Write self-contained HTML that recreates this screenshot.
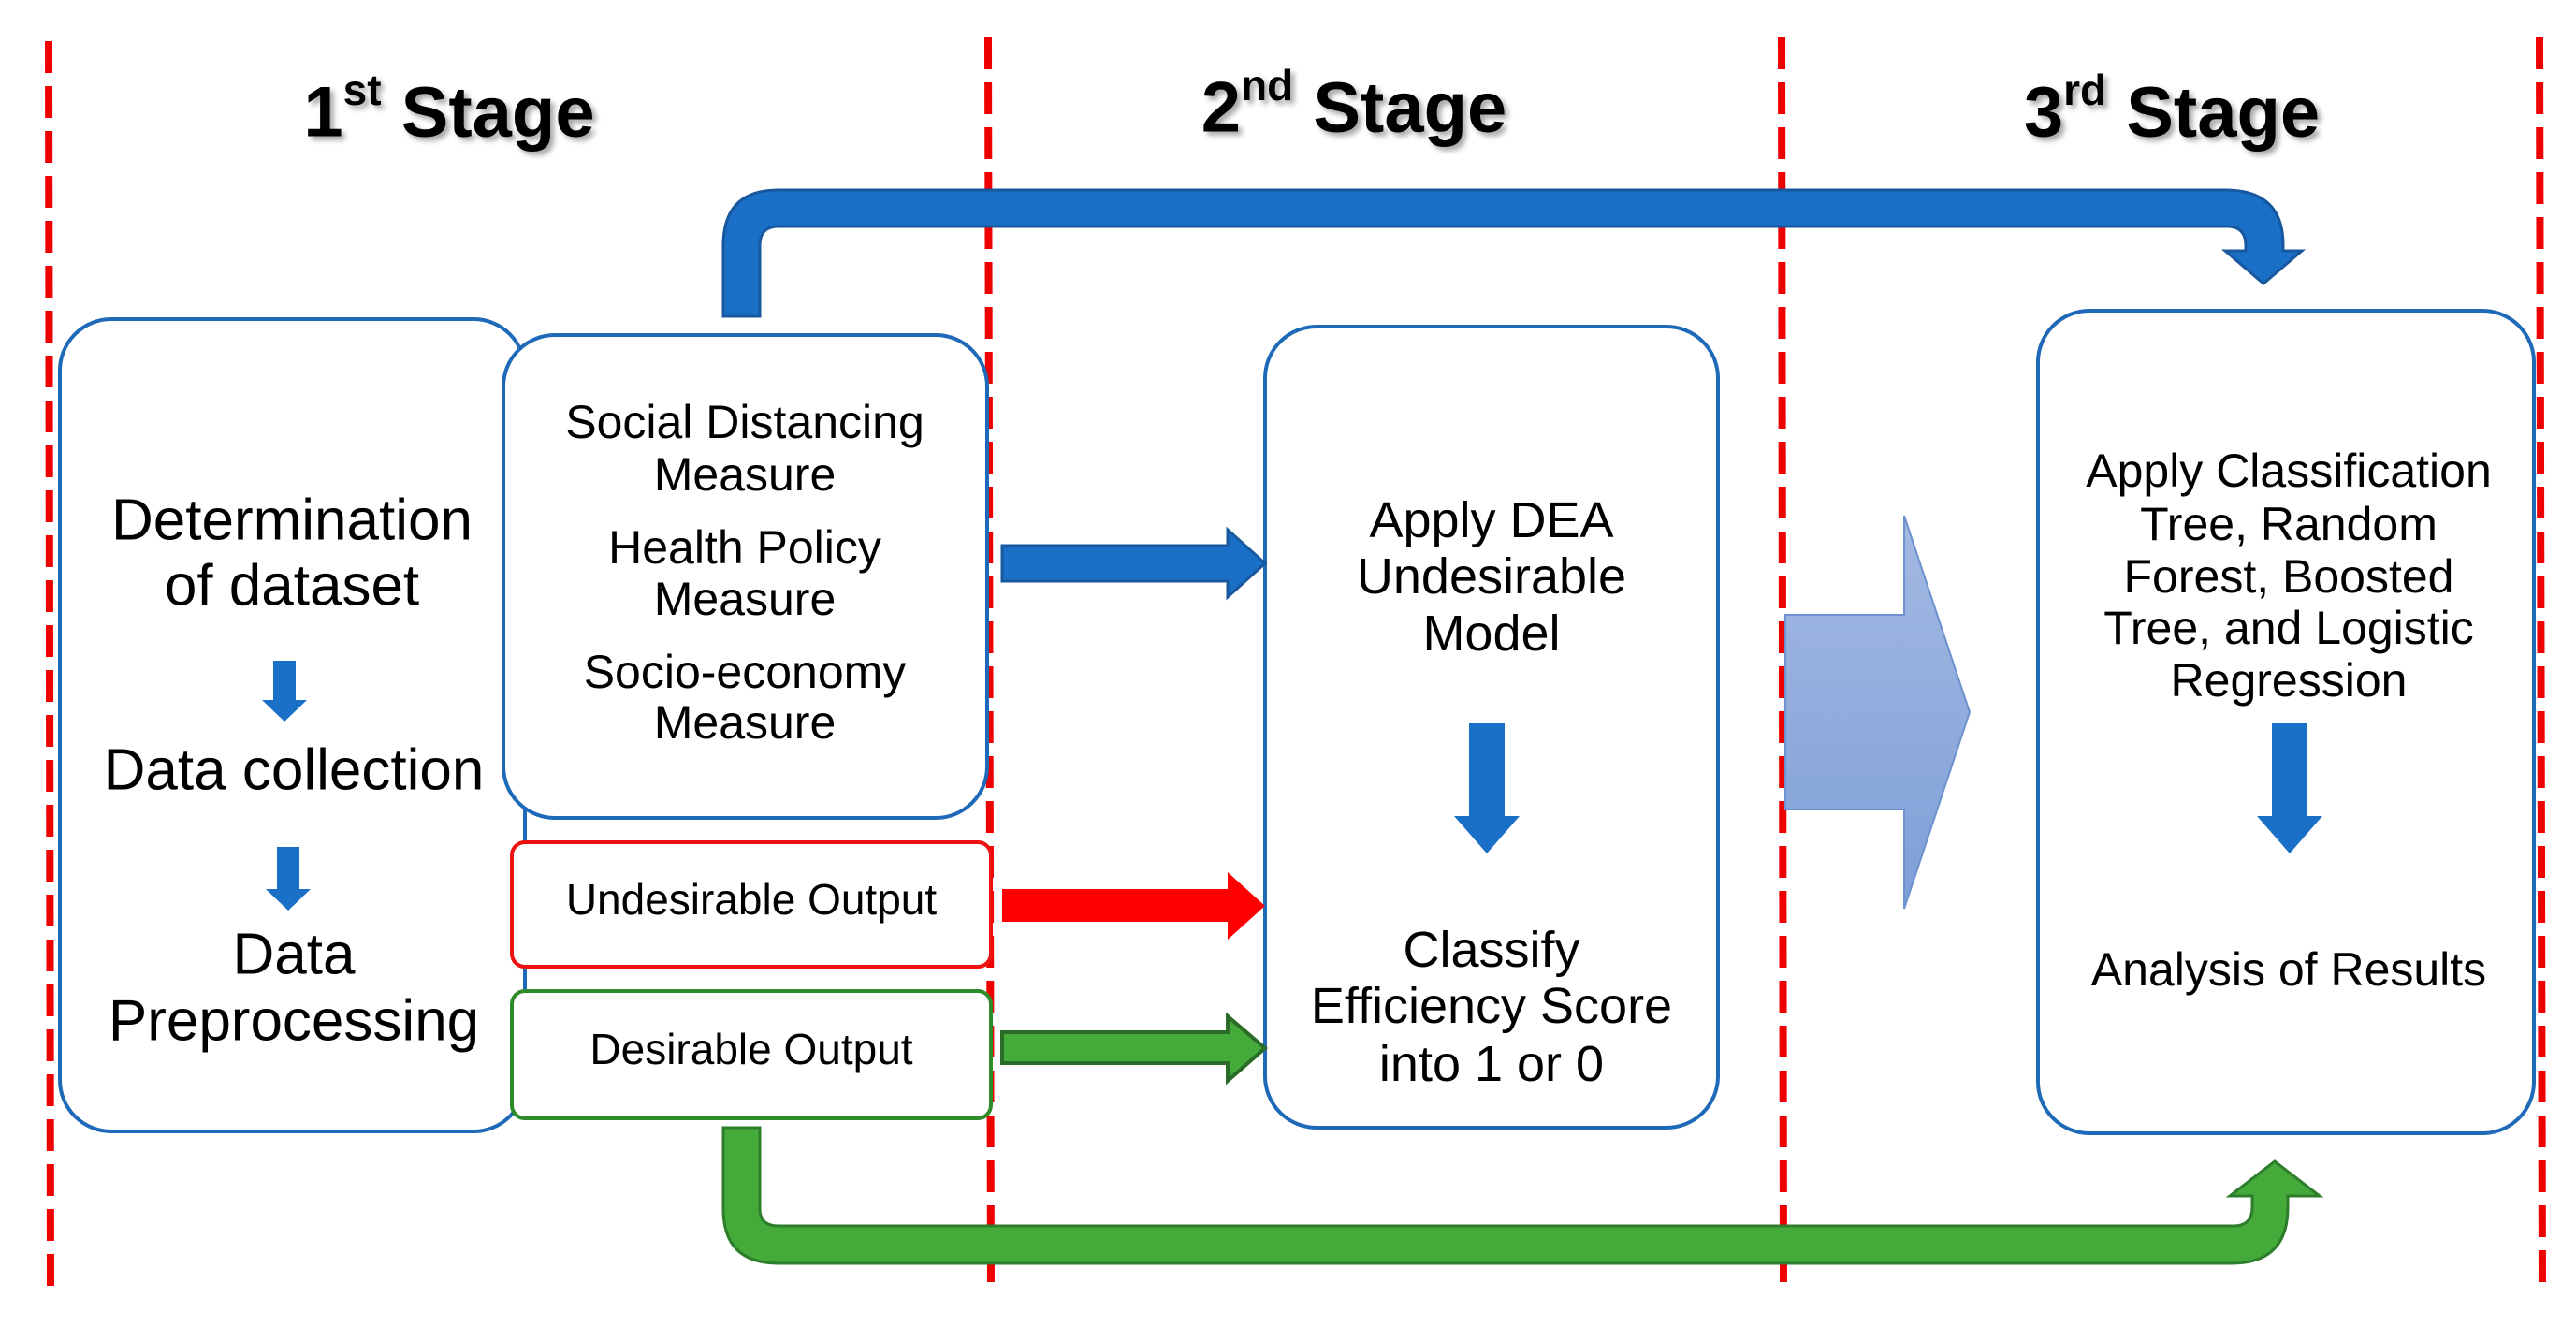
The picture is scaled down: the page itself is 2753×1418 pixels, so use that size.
<!DOCTYPE html>
<html><head><meta charset="utf-8"><style>
html,body{margin:0;padding:0;background:#fff}
svg{display:block}
text{font-family:"Liberation Sans",sans-serif;fill:#000;text-anchor:middle;dominant-baseline:central}
.t{font-weight:bold;font-size:76px}
</style></head><body>
<svg width="2753" height="1418" viewBox="0 0 2753 1418" xmlns="http://www.w3.org/2000/svg">
<defs>
<linearGradient id="g" x1="0" y1="0" x2="0" y2="1"><stop offset="0" stop-color="#a3b9e2"/><stop offset="1" stop-color="#7f9fd8"/></linearGradient>
<filter id="sh"><feDropShadow dx="4" dy="4" stdDeviation="3" flood-color="#000" flood-opacity="0.35"/></filter>
</defs>
<g stroke="#e00" stroke-width="8" stroke-dasharray="34,14">
<line x1="52" y1="44" x2="54" y2="1378"/>
<line x1="1056" y1="40" x2="1059" y2="1378"/>
<line x1="1904" y1="40" x2="1906" y2="1378"/>
<line x1="2714" y1="40" x2="2717" y2="1378"/>
</g>
<g filter="url(#sh)">
<text class="t" x="480" y="120">1<tspan font-size="46" dy="-24">st</tspan><tspan dy="24"> Stage</tspan></text>
<text class="t" x="1447" y="115">2<tspan font-size="46" dy="-24">nd</tspan><tspan dy="24">  Stage</tspan></text>
<text class="t" x="2321" y="120">3<tspan font-size="46" dy="-24">rd</tspan><tspan dy="24">  Stage</tspan></text>
</g>
<path d="M773 338 V262 Q773 203 832 203 H2378 Q2440 203 2440 262 V268 H2460 L2419 303 L2378 268 H2400 V262 Q2400 242 2380 242 H832 Q812 242 812 262 V338 Z" fill="#1a6fc7" stroke="#17589e" stroke-width="3"/>
<path d="M773 1205 V1292 Q773 1350 832 1350 H2385 Q2445 1350 2445 1290 V1278 H2479 L2431 1241 L2383 1278 H2407 V1290 Q2407 1310 2387 1310 H832 Q812 1310 812 1292 V1205 Z" fill="#44aa3a" stroke="#2d7d2a" stroke-width="3"/>
<rect x="64" y="341" width="497" height="868" rx="55" fill="#fff" stroke="#1f6ab8" stroke-width="4"/>
<rect x="538" y="358" width="517" height="516" rx="55" fill="#fff" stroke="#1f6ab8" stroke-width="4"/>
<rect x="547" y="900" width="512" height="133" rx="14" fill="#fff" stroke="#ee1111" stroke-width="4"/>
<rect x="547" y="1059" width="512" height="136" rx="14" fill="#fff" stroke="#2e8b2a" stroke-width="4"/>
<rect x="1352" y="349" width="484" height="856" rx="55" fill="#fff" stroke="#1f6ab8" stroke-width="4"/>
<rect x="2178" y="332" width="530" height="879" rx="55" fill="#fff" stroke="#1f6ab8" stroke-width="4"/>
<path d="M1071 583 H1312 V566 L1352 602 L1312 638 V621 H1071 Z" fill="#1a6fc7" stroke="#17589e" stroke-width="3"/>
<path d="M1071 950 H1312 V932 L1352 968 L1312 1004 V985 H1071 Z" fill="#ff0000"/>
<path d="M1071 1103 H1312 V1086 L1352 1120 L1312 1155 V1136 H1071 Z" fill="#44aa3a" stroke="#2a6b27" stroke-width="4"/>
<path d="M1908 657 H2035 V551 L2105 761 L2035 971 V865 H1908 Z" fill="url(#g)" stroke="#6e91d0" stroke-width="2"/>
<g fill="#1a6fc7">
<path d="M292 706 H316 V748 H328 L304 771 L280 748 H292 Z"/>
<path d="M296 905 H320 V950 H332 L308 973 L284 950 H296 Z"/>
<path d="M1570 773 H1608 V872 H1624 L1589 912 L1554 872 H1570 Z"/>
<path d="M2428 773 H2466 V872 H2482 L2447 912 L2412 872 H2428 Z"/>
</g>
<g font-size="62">
<text x="312" y="556">Determination</text>
<text x="312" y="626">of dataset</text>
<text x="314" y="823">Data collection</text>
<text x="314" y="1020">Data</text>
<text x="314" y="1091">Preprocessing</text>
</g>
<g font-size="50">
<text x="796" y="451">Social Distancing</text>
<text x="796" y="507">Measure</text>
<text x="796" y="585">Health Policy</text>
<text x="796" y="640">Measure</text>
<text x="796" y="718">Socio-economy</text>
<text x="796" y="772">Measure</text>
</g>
<text x="803" y="961" font-size="46">Undesirable Output</text>
<text x="803" y="1121" font-size="46">Desirable Output</text>
<g font-size="54">
<text x="1594" y="556">Apply DEA</text>
<text x="1594" y="616">Undesirable</text>
<text x="1594" y="677">Model</text>
<text x="1594" y="1015">Classify</text>
<text x="1594" y="1075">Efficiency Score</text>
<text x="1594" y="1137">into 1 or 0</text>
</g>
<g font-size="50">
<text x="2446" y="503">Apply Classification</text>
<text x="2446" y="560">Tree, Random</text>
<text x="2446" y="616">Forest, Boosted</text>
<text x="2446" y="671">Tree, and Logistic</text>
<text x="2446" y="727">Regression</text>
<text x="2446" y="1036">Analysis of Results</text>
</g>
</svg>
</body></html>
